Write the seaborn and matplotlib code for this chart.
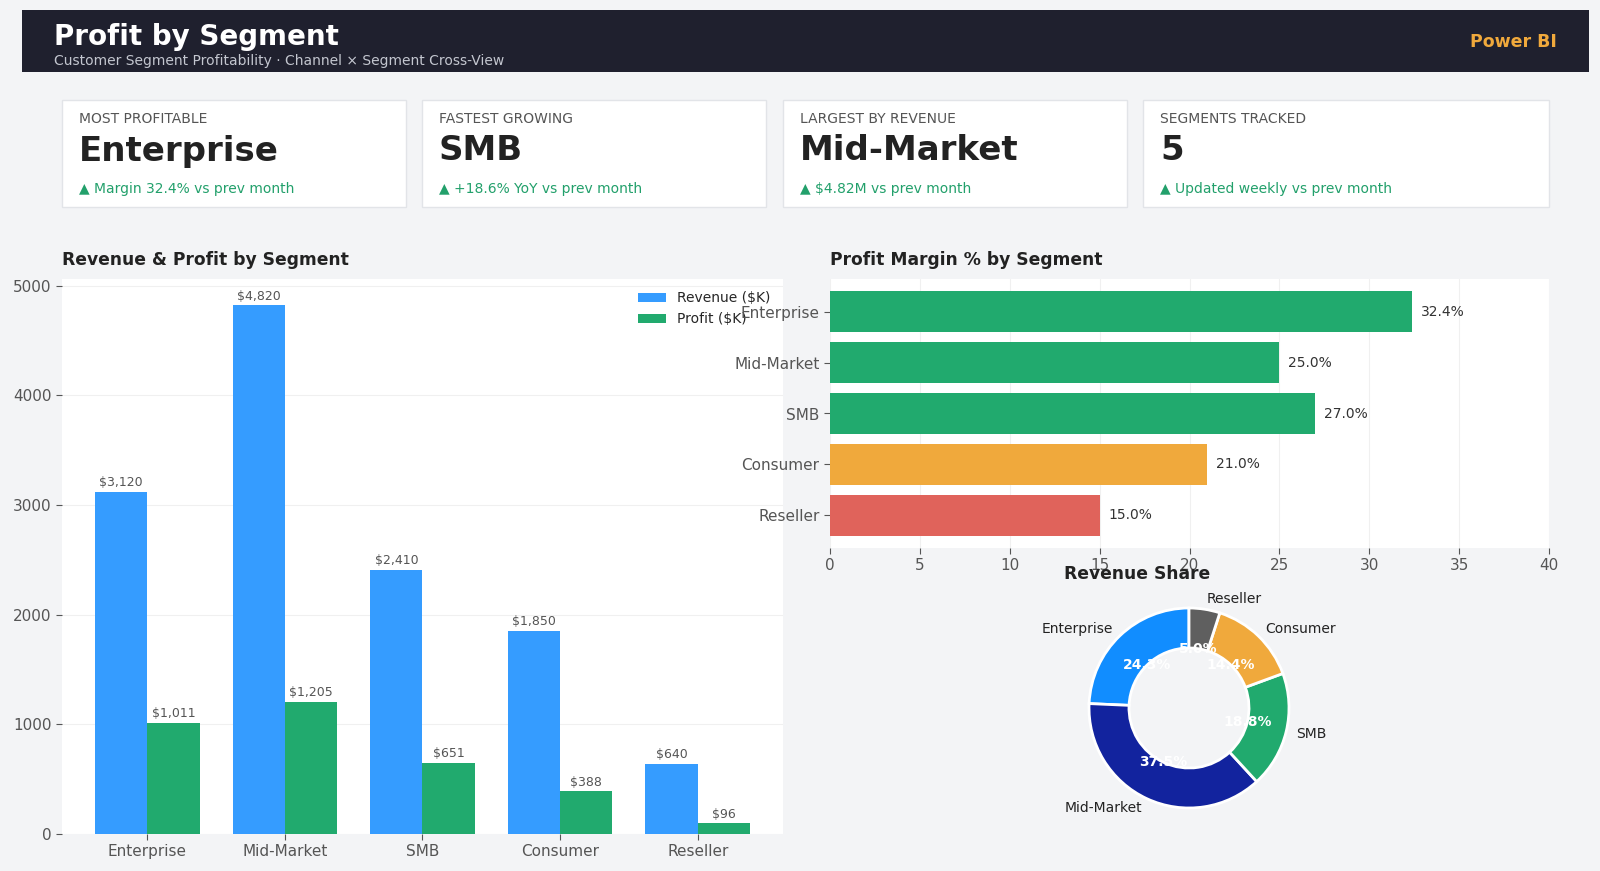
import pandas as pd
import seaborn as sns
import matplotlib.pyplot as plt
from matplotlib.patches import Rectangle

segments = ["Enterprise", "Mid-Market", "SMB", "Consumer", "Reseller"]
revenue = [3120, 4820, 2410, 1850, 640]
profit = [1011, 1205, 651, 388, 96]
margin = [32.4, 25.0, 27.0, 21.0, 15.0]

kpi_labels = ["MOST PROFITABLE", "FASTEST GROWING", "LARGEST BY REVENUE", "SEGMENTS TRACKED"]
kpi_values = ["Enterprise", "SMB", "Mid-Market", "5"]
kpi_deltas = ["Margin 32.4%", "+18.6% YoY", "$4.82M", "Updated weekly"]

BG = "#f3f4f6"
BLUE = "#359cff"
GREEN = "#21aa6e"
ORANGE = "#f0a93c"
RED = "#e0635b"
margin_colors = [GREEN, GREEN, GREEN, ORANGE, RED]
donut_colors = ["#118dff", "#12239e", GREEN, ORANGE, "#5f5f5f"]

sns.set_style("white")
plt.rcParams["font.family"] = ["DejaVu Sans"]

W, H = 1600, 871
fig = plt.figure(figsize=(16, 8.71), dpi=100, facecolor=BG)


def fx(px):
    return px / W


def fy(py):
    return 1 - py / H


# header band
fig.patches.append(Rectangle((fx(22), fy(72)), fx(1567), 62 / H, transform=fig.transFigure,
                             facecolor="#1f202e", edgecolor="none", zorder=0))
fig.text(fx(54), fy(37), "Profit by Segment", color="white", fontsize=20,
         fontweight="bold", va="center")
fig.text(fx(54), fy(61), "Customer Segment Profitability · Channel × Segment Cross-View",
         color="#c3c6cf", fontsize=10, va="center")
fig.text(fx(1557), fy(42), "Power BI", color="#f0a93c", fontsize=12.5,
         fontweight="bold", va="center", ha="right")

# kpi cards
card_x = [(62, 406), (422, 766), (783, 1127), (1143, 1549)]
for (x0, x1), lab, val, dl in zip(card_x, kpi_labels, kpi_values, kpi_deltas):
    fig.patches.append(Rectangle((fx(x0), fy(207)), fx(x1 - x0), 107 / H,
                                 transform=fig.transFigure, facecolor="white",
                                 edgecolor="#e2e4e8", linewidth=1, zorder=0))
    fig.text(fx(x0 + 17), fy(119), lab, color="#555555", fontsize=10, va="center")
    fig.text(fx(x0 + 17), fy(151), val, color="#222222", fontsize=24.5,
             fontweight="bold", va="center")
    fig.text(fx(x0 + 17), fy(189), "▲ " + dl + " vs prev month", color="#22a06b",
             fontsize=10, va="center")

# revenue & profit bars
ax1 = fig.add_axes([fx(62), fy(834), fx(721), 555 / H])
ax1.set_facecolor("white")
df = pd.DataFrame({
    "Segment": segments * 2,
    "Value": revenue + profit,
    "Metric": ["Revenue ($K)"] * len(segments) + ["Profit ($K)"] * len(segments),
})
sns.barplot(data=df, x="Segment", y="Value", hue="Metric", palette=[BLUE, GREEN],
            saturation=1, width=0.76, linewidth=0, ax=ax1)
for cont in ax1.containers:
    ax1.bar_label(cont, labels=[f"${v:,.0f}" for v in cont.datavalues], padding=2,
                  fontsize=9, color="#555555")
ax1.set_xlim(-0.62, 4.62)
ax1.set_ylim(0, max(revenue) * 1.05)
ax1.set_yticks([0, 1000, 2000, 3000, 4000, 5000])
ax1.set_xlabel("")
ax1.set_ylabel("")
ax1.grid(axis="y", color="#f0f0f0", linewidth=0.8)
ax1.set_axisbelow(True)
ax1.set_title("Revenue & Profit by Segment", loc="left", fontsize=12.3,
              fontweight="bold", color="#222222", pad=10)
ax1.legend(loc="upper right", frameon=False, fontsize=10, title=None)

# profit margin bars
ax2 = fig.add_axes([fx(830), fy(548), fx(719), 269 / H])
ax2.set_facecolor("white")
sns.barplot(x=margin, y=segments, hue=segments, palette=margin_colors, legend=False,
            saturation=1, width=0.8, linewidth=0, orient="h", ax=ax2)
for cont in ax2.containers:
    ax2.bar_label(cont, labels=[f"{v:.1f}%" for v in cont.datavalues], padding=6,
                  fontsize=10, color="#333333")
ax2.set_xlim(0, 40)
ax2.set_ylim(4.64, -0.64)
ax2.set_xticks(range(0, 41, 5))
ax2.set_xlabel("")
ax2.set_ylabel("")
ax2.grid(axis="x", color="#f0f0f0", linewidth=0.8)
ax2.set_axisbelow(True)
ax2.set_title("Profit Margin % by Segment", loc="left", fontsize=12.3,
              fontweight="bold", color="#222222", pad=10)

for ax in (ax1, ax2):
    for s in ax.spines.values():
        s.set_visible(False)
    ax.tick_params(axis="both", left=True, bottom=True, labelsize=11,
                   colors="#555555", length=4, width=0.8, labelcolor="#555555")

# revenue share donut
ax3 = fig.add_axes([fx(1064), fy(833), fx(250), 250 / H])
wedges, texts, autotexts = ax3.pie(
    revenue, labels=segments, colors=donut_colors, startangle=90,
    autopct="%1.1f%%", wedgeprops=dict(width=0.4, edgecolor="white", linewidth=2),
    textprops=dict(fontsize=10, color="#222222"))
for t in autotexts:
    t.set_color("white")
    t.set_fontweight("bold")
ax3.set_title("Revenue Share", loc="left", fontsize=12.3, fontweight="bold",
              color="#222222", pad=3)

fig.savefig("out.png", dpi=100, facecolor=BG)
